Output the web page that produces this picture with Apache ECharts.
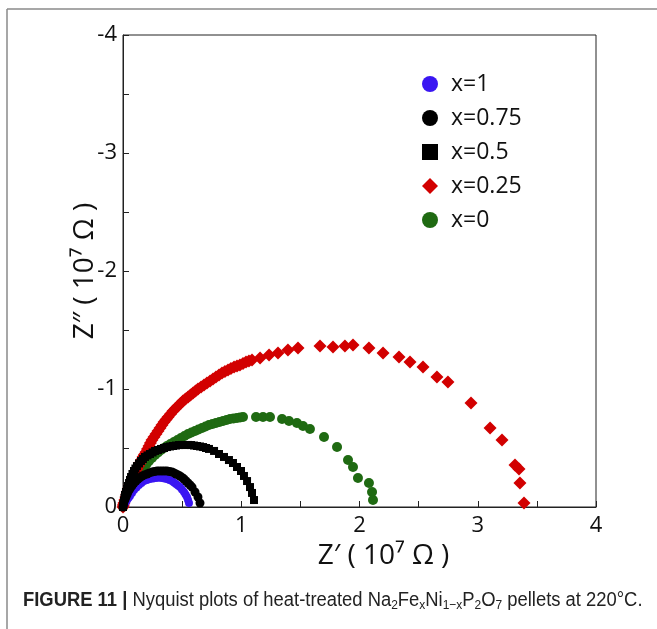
<!DOCTYPE html>
<html>
<head>
<meta charset="utf-8">
<script src="https://cdn.jsdelivr.net/npm/echarts@6/dist/echarts.min.js"></script>
<style>
  html, body { margin: 0; padding: 0; background: #fff; }
  #chart { width: 657px; height: 629px; }
</style>
</head>
<body>
<div id="chart"></div>
<script>
// Nyquist plot values, [Z', Z''] in units of 1e7 ohm
const seriesNames = ["x=1", "x=0.75", "x=0.5", "x=0.25", "x=0"];

const dataX1 = [
    [0, 0], [0.008, -0.017], [0.017, -0.034], [0.025, -0.047], [0.034, -0.059],
    [0.046, -0.076], [0.059, -0.093], [0.076, -0.119], [0.093, -0.144], [0.114, -0.165],
    [0.135, -0.186], [0.156, -0.203], [0.178, -0.220], [0.203, -0.229], [0.228, -0.237],
    [0.254, -0.242], [0.279, -0.246], [0.305, -0.247], [0.330, -0.246], [0.351, -0.242],
    [0.372, -0.237], [0.393, -0.229], [0.414, -0.220], [0.431, -0.208], [0.448, -0.195],
    [0.465, -0.182], [0.482, -0.169], [0.499, -0.148], [0.516, -0.127], [0.529, -0.106],
    [0.541, -0.085], [0.550, -0.060], [0.558, -0.034]
];

const dataX075 = [
    [0, 0], [0.004, -0.021], [0.008, -0.042], [0.017, -0.064], [0.025, -0.085],
    [0.034, -0.106], [0.042, -0.127], [0.055, -0.148], [0.068, -0.169], [0.080, -0.186],
    [0.093, -0.203], [0.110, -0.220], [0.127, -0.237], [0.144, -0.250], [0.161, -0.263],
    [0.182, -0.272], [0.203, -0.280], [0.224, -0.289], [0.245, -0.297], [0.266, -0.301],
    [0.288, -0.305], [0.309, -0.306], [0.330, -0.305], [0.351, -0.306], [0.372, -0.305],
    [0.393, -0.301], [0.414, -0.297], [0.431, -0.289], [0.448, -0.280], [0.465, -0.272],
    [0.482, -0.263], [0.499, -0.250], [0.516, -0.237], [0.533, -0.220], [0.550, -0.203],
    [0.567, -0.186], [0.584, -0.169], [0.609, -0.127], [0.634, -0.085], [0.651, -0.034]
];

const dataX05 = [
    [0, 0], [0.004, -0.025], [0.008, -0.051], [0.012, -0.076], [0.017, -0.102],
    [0.025, -0.127], [0.034, -0.153], [0.042, -0.178], [0.051, -0.203], [0.059, -0.229],
    [0.068, -0.254], [0.080, -0.280], [0.093, -0.305], [0.105, -0.326], [0.118, -0.347],
    [0.135, -0.369], [0.152, -0.390], [0.169, -0.407], [0.186, -0.424], [0.207, -0.437],
    [0.228, -0.449], [0.250, -0.462], [0.271, -0.475], [0.296, -0.483], [0.321, -0.492],
    [0.347, -0.500], [0.372, -0.508], [0.398, -0.513], [0.423, -0.517], [0.448, -0.521],
    [0.474, -0.525], [0.499, -0.526], [0.524, -0.525], [0.550, -0.526], [0.575, -0.525],
    [0.600, -0.521], [0.626, -0.517], [0.651, -0.513], [0.677, -0.508], [0.702, -0.500],
    [0.727, -0.492], [0.770, -0.475], [0.812, -0.449], [0.854, -0.424], [0.896, -0.398],
    [0.930, -0.373], [0.964, -0.339], [0.998, -0.305], [1.023, -0.263], [1.049, -0.220],
    [1.074, -0.169], [1.091, -0.119], [1.108, -0.059]
];

const dataX025 = [
    [0, 0], [0.003, -0.017], [0.008, -0.034], [0.016, -0.060], [0.025, -0.085],
    [0.033, -0.111], [0.042, -0.136], [0.050, -0.161], [0.059, -0.186], [0.067, -0.208],
    [0.076, -0.229], [0.084, -0.250], [0.093, -0.271], [0.105, -0.297], [0.118, -0.322],
    [0.131, -0.348], [0.144, -0.373], [0.156, -0.399], [0.169, -0.424], [0.182, -0.445],
    [0.195, -0.466], [0.207, -0.492], [0.220, -0.517], [0.232, -0.543], [0.245, -0.568],
    [0.262, -0.594], [0.279, -0.619], [0.296, -0.644], [0.313, -0.669], [0.330, -0.695],
    [0.347, -0.720], [0.364, -0.742], [0.381, -0.763], [0.402, -0.789], [0.423, -0.814],
    [0.444, -0.835], [0.465, -0.856], [0.486, -0.877], [0.507, -0.898], [0.528, -0.915],
    [0.550, -0.932], [0.571, -0.949], [0.592, -0.966], [0.613, -0.983], [0.634, -1.000],
    [0.660, -1.017], [0.685, -1.034], [0.710, -1.051], [0.736, -1.068], [0.761, -1.085],
    [0.786, -1.102], [0.812, -1.119], [0.837, -1.136], [0.862, -1.149], [0.888, -1.161],
    [0.913, -1.174], [0.939, -1.186], [0.964, -1.195], [0.989, -1.203], [1.015, -1.216],
    [1.040, -1.229], [1.065, -1.238], [1.091, -1.246], [1.159, -1.263], [1.235, -1.288],
    [1.311, -1.305], [1.395, -1.331], [1.480, -1.347], [1.666, -1.364], [1.776, -1.356],
    [1.877, -1.364], [1.945, -1.373], [2.080, -1.347], [2.199, -1.305], [2.334, -1.271],
    [2.427, -1.229], [2.537, -1.186], [2.655, -1.102], [2.748, -1.059], [2.943, -0.881],
    [3.104, -0.669], [3.205, -0.568], [3.315, -0.356], [3.349, -0.322], [3.357, -0.203],
    [3.391, -0.034]
];

const dataX0 = [
    [0, 0], [0.008, -0.030], [0.017, -0.059], [0.029, -0.089], [0.042, -0.119],
    [0.055, -0.149], [0.068, -0.178], [0.084, -0.208], [0.101, -0.237], [0.118, -0.263],
    [0.135, -0.288], [0.156, -0.314], [0.178, -0.339], [0.199, -0.365], [0.220, -0.390],
    [0.245, -0.416], [0.271, -0.441], [0.296, -0.462], [0.321, -0.483], [0.347, -0.500],
    [0.372, -0.517], [0.401, -0.534], [0.431, -0.551], [0.461, -0.568], [0.490, -0.585],
    [0.520, -0.602], [0.550, -0.619], [0.579, -0.632], [0.609, -0.644], [0.638, -0.657],
    [0.668, -0.669], [0.698, -0.682], [0.727, -0.695], [0.757, -0.704], [0.786, -0.712],
    [0.816, -0.721], [0.846, -0.729], [0.876, -0.738], [0.905, -0.746], [0.935, -0.750],
    [0.964, -0.754], [0.990, -0.759], [1.015, -0.763], [1.125, -0.763], [1.184, -0.763],
    [1.243, -0.763], [1.345, -0.746], [1.404, -0.729], [1.471, -0.712], [1.522, -0.686],
    [1.581, -0.661], [1.700, -0.593], [1.810, -0.508], [1.903, -0.398], [1.945, -0.339],
    [1.987, -0.246], [2.080, -0.203], [2.106, -0.127], [2.114, -0.059]
];

const xTicks = [0, 1, 2, 3, 4];
const yTicks = [-4, -3, -2, -1, 0];

const colors = {
    "x=1": "#3a16f2",
    "x=0.75": "#000000",
    "x=0.5": "#000000",
    "x=0.25": "#d20000",
    "x=0": "#1f6a12"
};

const chart = echarts.init(document.getElementById("chart"), null, { renderer: "canvas" });

const tickFont = { fontFamily: "Open Sans", fontSize: 22, color: "#111" };
const capFont = "Liberation Sans";

const option = {
    animation: false,
    backgroundColor: "#fff",
    grid: {
        left: 123, top: 35, width: 473, height: 472,
        show: true, borderColor: "#222", borderWidth: 1, backgroundColor: "transparent"
    },
    legend: {
        orient: "vertical",
        left: 417, top: 67,
        itemWidth: 16, itemHeight: 16, itemGap: 10,
        textStyle: { fontFamily: "Open Sans", fontSize: 23, lineHeight: 24, color: "#111", padding: [0, 0, 0, 8] },
        data: [
            { name: "x=1", icon: "circle" },
            { name: "x=0.75", icon: "circle" },
            { name: "x=0.5", icon: "rect" },
            { name: "x=0.25", icon: "diamond" },
            { name: "x=0", icon: "circle" }
        ]
    },
    xAxis: {
        type: "value", min: xTicks[0], max: xTicks[xTicks.length - 1], interval: 1,
        name: "Z\u2032 ( 10\u2077 \u03a9 )", nameLocation: "middle", nameGap: 31,
        nameTextStyle: { fontFamily: "Open Sans", fontSize: 28, color: "#111", padding: [0, 0, 0, 48] },
        axisLine: { show: true, lineStyle: { color: "#222" } },
        axisTick: { show: true, inside: true, length: 6, lineStyle: { color: "#222" } },
        minorTick: { show: true, splitNumber: 2, length: 6, lineStyle: { color: "#222" } },
        splitLine: { show: false },
        axisLabel: Object.assign({ margin: 8 }, tickFont)
    },
    yAxis: {
        type: "value", min: yTicks[0], max: yTicks[yTicks.length - 1], interval: 1, inverse: true,
        name: "Z\u2033 ( 10\u2077 \u03a9 )", nameLocation: "middle", nameGap: 24, nameMoveOverlap: false,
        nameTextStyle: { fontFamily: "Open Sans", fontSize: 28, color: "#111" },
        axisLine: { show: true, lineStyle: { color: "#222" } },
        axisTick: { show: true, inside: true, length: 6, lineStyle: { color: "#222" } },
        minorTick: { show: true, splitNumber: 2, length: 6, lineStyle: { color: "#222" } },
        splitLine: { show: false },
        axisLabel: Object.assign({ margin: 6 }, tickFont)
    },
    series: [
        { name: "x=0", type: "scatter", data: dataX0, symbol: "circle", symbolSize: 10, z: 2,
          itemStyle: { color: colors["x=0"], opacity: 1 } },
        { name: "x=0.25", type: "scatter", data: dataX025, symbol: "diamond", symbolSize: 13, z: 3,
          itemStyle: { color: colors["x=0.25"], opacity: 1 } },
        { name: "x=1", type: "scatter", data: dataX1, symbol: "circle", symbolSize: 8, z: 4,
          itemStyle: { color: colors["x=1"], opacity: 1 } },
        { name: "x=0.5", type: "scatter", data: dataX05, symbol: "rect", symbolSize: 8, z: 5,
          itemStyle: { color: colors["x=0.5"], opacity: 1 } },
        { name: "x=0.75", type: "scatter", data: dataX075, symbol: "circle", symbolSize: 9, z: 6,
          itemStyle: { color: colors["x=0.75"], opacity: 1 } }
    ],
    graphic: [
        // figure frame (top and left edges)
        { type: "line", shape: { x1: 7, y1: 9, x2: 657, y2: 9 }, style: { stroke: "#8a8a8a", lineWidth: 1.5 } },
        { type: "line", shape: { x1: 7, y1: 9, x2: 7, y2: 629 }, style: { stroke: "#8a8a8a", lineWidth: 1.5 } },
        {
            type: "text", x: 23, y: 588, scaleX: 0.92,
            style: {
                text: "{b|FIGURE 11 |}{n| Nyquist plots of heat-treated Na}{s|2}{n|Fe}{s|x}{n|Ni}{s|1\u2212x}{n|P}{s|2}{n|O}{s|7}{n| pellets at 220\u00b0C.}",
                rich: {
                    b: { fontFamily: capFont, fontWeight: "bold", fontSize: 20, lineHeight: 24, fill: "#222", verticalAlign: "middle" },
                    n: { fontFamily: capFont, fontSize: 20, lineHeight: 24, fill: "#222", verticalAlign: "middle" },
                    s: { fontFamily: capFont, fontSize: 13, lineHeight: 12, fill: "#222", verticalAlign: "bottom" }
                }
            }
        }
    ]
};

chart.setOption(option);
</script>
</body>
</html>
